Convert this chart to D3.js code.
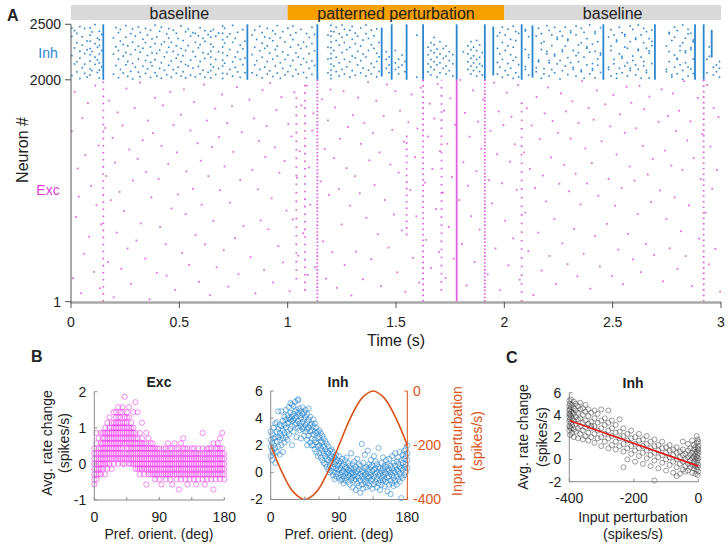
<!DOCTYPE html>
<html><head><meta charset="utf-8">
<script src="https://cdn.jsdelivr.net/npm/d3@7"></script>
<style>body{margin:0;background:#fff}svg text{font-family:"Liberation Sans",Arial,Helvetica,sans-serif;fill:#222}</style>
</head><body>
<svg id="c" width="728" height="547"></svg>
<script>
// ---------------- DATA ----------------
const phases = [{label:"baseline",start:0,end:1,kind:"base"},{label:"patterned perturbation",start:1,end:2,kind:"pert"},{label:"baseline",start:2,end:3,kind:"base"}];
const rasterXTicks = [0,0.5,1,1.5,2,2.5,3];
const rasterYTicks = [1,2000,2500];
// inhibitory synchronous events: [time, neuronFrom, neuronTo]
const inhSync = [[0.149,2000,2500],[0.814,2000,2500],[1.137,2000,2500],[1.434,2030,2470],[1.48,2000,2500],[1.549,2000,2500],[1.625,2000,2500],[1.78,2000,2500],[1.91,2000,2500],[1.949,2040,2480],[2.08,2000,2500],[2.13,2020,2490],[2.457,2000,2500],[2.695,2000,2500],[2.88,2000,2500],[2.92,2000,2500],[2.957,2200,2450]];
// excitatory synchronous events: [time, neuronFrom, neuronTo, density]
const excSync = [[0.149,1,2000,0.45],[1.04,200,1900,0.3],[1.08,100,2000,0.4],[1.137,1,2000,0.8],[1.549,600,1500,0.5],[1.625,1,2000,0.6],[1.71,100,2000,0.35],[1.78,1,2000,0.95],[1.91,1,2000,0.8],[2.08,1,1800,0.3],[2.92,1,2000,0.6]];
// inhibitory spikes grouped by time: [time, [neurons]]
const inhSpikes = [
[0.004,[2037,2218,2391,2466]],[0.016,[2142,2287,2443]],[0.027,[2071,2163,2334,2418]],[0.041,[2012,2196,2257,2479]],[0.052,[2109,2312,2388]],[0.063,[2058,2141,2236,2462]],[0.074,[2024,2271,2350]],
[0.088,[2043,2097,2168,2226,2281,2347,2402,2468]],[0.097,[2083,2255,2431]],[0.111,[2139,2204,2326,2497]],[0.122,[2066,2179,2292,2375]],[0.131,[2016,2088,2152,2233,2309,2361,2437]],[0.142,[2117,2263,2409]],
[0.196,[2052,2231,2378]],[0.207,[2128,2297,2471]],[0.219,[2019,2186,2263,2425]],[0.228,[2093,2349,2453]],[0.241,[2062,2214,2318]],[0.253,[2135,2246,2383,2488]],[0.262,[2031,2166,2307]],
[0.276,[2076,2229,2416]],[0.284,[2008,2147,2339,2458]],[0.297,[2114,2271,2394]],[0.311,[2069,2187,2302,2476]],[0.319,[2028,2249,2427]],[0.332,[2121,2284,2365]],[0.344,[2057,2173,2336,2463]],
[0.353,[2098,2219,2404]],[0.367,[2021,2158,2296,2448]],[0.374,[2126,2243,2369]],[0.388,[2064,2182,2327,2492]],[0.396,[2035,2238,2386]],[0.409,[2103,2268,2437]],[0.417,[2014,2154,2319,2474]],
[0.431,[2087,2207,2343]],[0.442,[2046,2247,2413]],[0.451,[2131,2293,2376,2461]],[0.463,[2023,2169,2338]],[0.472,[2092,2256,2447]],[0.486,[2059,2195,2306,2419]],[0.494,[2113,2226,2372]],
[0.508,[2034,2163,2282,2486]],[0.517,[2072,2217,2353]],[0.529,[2018,2138,2264,2433]],[0.541,[2124,2308,2457]],[0.552,[2043,2176,2394]],[0.563,[2106,2254,2425]],[0.574,[2027,2209,2337,2418]],
[0.588,[2119,2288,2396]],[0.596,[2053,2166,2317,2469]],[0.609,[2086,2245,2374]],[0.618,[2024,2193,2346,2443]],[0.633,[2068,2232,2407]],[0.645,[2018,2083,2139,2204,2257,2321,2384,2438]],
[0.657,[2116,2297,2453]],[0.668,[2047,2184,2393]],[0.681,[2102,2253,2421]],[0.7,[2012,2058,2124,2177,2243,2296,2361,2418,2483]],[0.709,[2149,2331,2464]],[0.721,[2054,2218,2387]],
[0.733,[2093,2273,2415]],[0.746,[2033,2162,2338,2491]],[0.758,[2112,2204,2373]],[0.769,[2071,2249,2428]],[0.781,[2022,2183,2313]],[0.793,[2137,2279,2452]],[0.803,[2064,2196,2347]],
[0.836,[2063,2227,2404]],[0.848,[2134,2293,2449]],[0.857,[2041,2172,2363]],[0.871,[2094,2262,2482]],[0.882,[2017,2203,2329,2426]],[0.894,[2114,2283,2387]],[0.906,[2052,2164,2306,2463]],
[0.917,[2081,2241,2374]],[0.931,[2029,2186,2352,2442]],[0.943,[2123,2273,2413]],[0.952,[2061,2214,2303,2488]],[0.966,[2013,2154,2379]],[0.977,[2102,2252,2434]],[0.988,[2044,2183,2341]],
[1.001,[2073,2224,2466]],[1.013,[2126,2294,2403]],[1.024,[2032,2174,2362,2484]],[1.038,[2091,2243,2424]],[1.049,[2053,2205,2314]],[1.061,[2137,2283,2454]],[1.073,[2066,2191,2338]],
[1.087,[2019,2158,2299,2417]],[1.099,[2103,2236,2381]],[1.112,[2048,2171,2327,2473]],[1.124,[2129,2262,2408]],[1.186,[2063,2186,2292,2403]],
[1.2,[2011,2043,2088,2141,2193,2236,2289,2342,2394,2437,2491]],[1.213,[2122,2264,2433]],[1.224,[2074,2203,2354,2472]],[1.238,[2033,2153,2313,2414]],[1.251,[2094,2246,2383,2493]],
[1.262,[2052,2184,2336,2455]],[1.273,[2117,2272,2404]],[1.287,[2024,2163,2292,2446]],[1.298,[2083,2214,2365,2481]],[1.312,[2041,2197,2326,2421]],[1.323,[2134,2256,2393]],
[1.337,[2062,2173,2304,2466]],[1.348,[2104,2232,2358]],[1.361,[2034,2205,2416,2493]],[1.373,[2086,2264,2372]],[1.386,[2054,2146,2316,2447]],[1.398,[2112,2283,2397]],[1.411,[2027,2166,2239,2459]],
[1.422,[2076,2207,2336]],[1.455,[2103,2184,2253]],[1.468,[2064,2134,2206]],[1.497,[2093,2153,2264]],[1.512,[2054,2113,2185]],[1.528,[2133,2224]],[1.541,[2073,2166]],[1.596,[2023,2402]],
[1.648,[2072,2143,2226,2294]],[1.661,[2043,2115,2183,2263,2334]],[1.676,[2092,2163,2243,2316,2382]],[1.689,[2024,2136,2204,2276]],[1.703,[2063,2154,2232,2343]],[1.718,[2104,2193,2283]],
[1.731,[2052,2124,2214,2306]],[1.746,[2083,2173,2254]],[1.762,[2032,2144,2227]],[1.811,[2253]],[1.832,[2094,2163,2234,2306]],[1.846,[2053,2124,2194,2272,2344]],[1.858,[2084,2153,2216,2293]],
[1.872,[2033,2114,2184,2263,2354]],[1.886,[2074,2143,2203,2314]],[1.898,[2043,2124,2246]],[1.968,[2053,2156,2283,2394]],[1.979,[2114,2234,2425]],[1.991,[2023,2184,2336,2474]],
[2.004,[2083,2264,2403]],[2.016,[2044,2146,2306,2456]],[2.029,[2104,2226,2364]],[2.041,[2013,2174,2293,2483]],[2.053,[2063,2203,2354,2434]],[2.066,[2026,2137,2418]],
[2.097,[2093,2119,2274,2440,2453]],[2.112,[2043,2201,2226,2389]],[2.147,[2073,2108,2394]],[2.158,[2163,2177,2464]],[2.171,[2014,2273,2330,2414]],[2.183,[2054,2101,2344]],[2.196,[2233,2256,2488]],
[2.207,[2034,2153,2174,2444]],[2.219,[2092,2308,2404]],[2.232,[2063,2215,2229,2473]],[2.244,[2143,2364,2382]],[2.257,[2008,2174,2436]],[2.268,[2083,2254,2271,2394]],[2.281,[2124,2304,2474]],
[2.293,[2047,2199,2354,2367]],[2.306,[2154,2424,2441]],[2.318,[2093,2112,2264]],[2.331,[2033,2218,2404,2484]],[2.342,[2163,2244,2315]],[2.355,[2073,2087,2334,2464]],[2.368,[2014,2204,2427]],
[2.381,[2134,2284,2297,2371]],[2.394,[2053,2249,2494]],[2.407,[2086,2101,2146,2320]],[2.419,[2018,2257,2417,2433]],[2.431,[2131,2187,2343]],[2.444,[2066,2224,2241,2470]],
[2.481,[2093,2114,2384]],[2.492,[2033,2264,2304,2451]],[2.506,[2144,2184,2404]],[2.518,[2013,2054,2344,2358]],[2.531,[2103,2234,2474]],[2.543,[2064,2194,2211,2424]],[2.556,[2124,2294,2394,2409]],
[2.568,[2034,2154,2284]],[2.581,[2084,2104,2344,2484]],[2.593,[2174,2214,2454]],[2.606,[2044,2134,2364,2377]],[2.618,[2094,2264,2274,2494]],[2.631,[2014,2204,2404]],[2.643,[2124,2164,2334,2464]],
[2.656,[2064,2084,2284,2434]],[2.668,[2017,2238,2259,2371]],[2.681,[2146,2308,2346,2447]],[2.748,[2073,2094,2304]],[2.761,[2164,2254,2414,2427]],[2.773,[2024,2044,2354]],[2.786,[2114,2224,2384,2474]],
[2.798,[2054,2184,2194,2444]],[2.811,[2134,2264,2304]],[2.823,[2004,2084,2334,2494]],[2.836,[2154,2244,2261,2374]],[2.848,[2034,2114,2414,2454]],[2.861,[2096,2273,2289,2419]],[2.872,[2057,2188,2341,2358]],
[2.935,[2063,2184]],[2.946,[2211,2297]],[2.965,[2043,2114]],[2.979,[2073,2134]],[2.993,[2023,2104,2164]]
];
// excitatory spikes: [time, neuron]
const excSpikes = [
[0.004,1537],[0.009,212],[0.017,1893],[0.023,764],[0.031,1201],[0.036,948],[0.047,77],[0.052,1655],[0.061,433],[0.066,1322],[0.078,1790],[0.084,586],[0.093,1044],
[0.106,269],[0.112,1948],[0.118,871],[0.127,1409],[0.133,122],[0.139,697],[0.158,1566],[0.163,1133],[0.171,358],[0.176,1812],[0.184,915],[0.192,1477],[0.197,41],
[0.203,1254],[0.211,623],[0.215,1706],[0.224,990],[0.232,297],[0.238,1589],[0.244,818],[0.256,1921],[0.261,480],[0.269,1371],[0.277,163],[0.286,1093],[0.294,1744],
[0.302,552],[0.308,1288],[0.319,1975],[0.322,706],[0.331,1455],[0.343,389],[0.347,1169],[0.356,1633],[0.362,22],[0.371,942],[0.379,1519],[0.388,1838],[0.396,261],
[0.404,1107],[0.411,675],[0.418,1402],[0.425,1769],[0.437,518],[0.441,236],[0.449,1244],[0.458,1892],[0.464,841],[0.473,1592],[0.481,107],[0.489,1346],[0.494,967],
[0.507,1686],[0.512,441],[0.521,1913],[0.529,790],[0.533,1175],[0.546,332],[0.551,1543],[0.563,1018],[0.568,1799],[0.575,602],[0.584,1428],[0.591,181],[0.599,1271],
[0.603,874],[0.614,1957],[0.619,517],[0.627,1633],[0.634,1132],[0.642,59],[0.651,1396],[0.657,729],[0.666,1740],[0.672,311],[0.683,1484],[0.688,1005],[0.697,1867],
[0.705,465],[0.709,1219],[0.721,1610],[0.726,137],[0.734,893],[0.743,1762],[0.749,1350],[0.757,574],[0.766,1934],[0.773,248],[0.781,1096],[0.788,1527],[0.796,682],
[0.823,1821],[0.829,403],[0.837,1188],[0.844,1652],[0.851,77],[0.862,1014],[0.867,1449],[0.876,733],[0.884,1906],[0.891,287],[0.897,1305],
[0.903,1583],[0.911,654],[0.918,1971],[0.926,932],[0.933,174],[0.941,1392],[0.948,1727],[0.957,502],[0.962,1163],[0.971,1844],[0.978,355],[0.986,1268],[0.994,821],
[1.003,1604],[1.009,95],[1.018,1490],[1.024,742],[1.031,1887],[1.043,1117],[1.049,416],[1.056,1356],[1.063,1769],[1.071,618],[1.087,1946],[1.093,241],[1.099,1211],
[1.104,875],[1.113,1542],[1.119,1698],[1.127,312],[1.152,1085],[1.158,1824],[1.164,544],[1.171,1377],[1.177,209],[1.186,1634],[1.191,963],[1.198,1912],
[1.206,446],[1.214,1295],[1.219,1751],[1.227,126],[1.236,1016],[1.241,1469],[1.249,697],[1.258,1898],[1.263,331],[1.272,1204],[1.278,1575],[1.287,866],[1.294,57],
[1.302,1682],[1.311,1132],[1.316,452],[1.325,1840],[1.333,978],[1.339,1423],[1.347,203],[1.354,1611],[1.363,757],[1.371,1979],[1.377,1274],[1.386,384],[1.394,1519],
[1.401,1053],[1.409,1811],[1.416,609],[1.424,1346],[1.431,142],[1.443,1673],[1.449,917],[1.458,1958],[1.466,488],[1.474,1236],[1.483,1549],[1.491,786],[1.497,1897],
[1.506,265],[1.512,1164],[1.519,1722],[1.527,643],[1.536,1442],[1.543,92],[1.557,1618],[1.566,1009],[1.572,1868],[1.579,397],[1.588,1303],[1.594,770],[1.599,1561],
[1.607,174],[1.614,1929],[1.633,1074],[1.639,558],[1.647,1489],[1.656,1785],[1.662,303],[1.668,1196],[1.677,1651],[1.684,836],[1.692,1961],[1.699,447],[1.703,1358],
[1.716,984],[1.722,1722],[1.729,216],[1.737,1424],[1.744,674],[1.751,1832],[1.758,1125],[1.766,389],[1.772,1595],[1.792,917],[1.797,1999],
[1.804,522],[1.811,1257],[1.818,1702],[1.826,148],[1.832,1046],[1.839,1488],[1.847,771],[1.856,1905],[1.863,359],[1.871,1177],[1.878,1623],[1.886,652],[1.894,1379],
[1.902,1822],[1.923,247],[1.929,1095],[1.936,1541],[1.944,887],[1.953,1974],[1.959,481],[1.967,1329],[1.974,1715],[1.981,104],[1.989,1068],[1.996,1592],
[2.004,730],[2.011,1885],[2.019,329],[2.026,1263],[2.033,1667],[2.041,571],[2.048,1419],[2.057,1009],[2.063,1951],[2.071,199],[2.091,1346],[2.097,804],
[2.104,1744],[2.111,458],[2.118,1198],[2.126,1589],[2.134,61],[2.142,1026],[2.149,1846],[2.157,623],[2.163,1467],[2.172,282],[2.178,1137],[2.186,1698],[2.193,904],
[2.201,1931],[2.208,413],[2.216,1301],[2.223,1628],[2.231,747],[2.238,160],[2.247,1523],[2.254,1063],[2.261,1878],[2.268,527],[2.277,1233],[2.284,1715],[2.292,339],
[2.299,996],[2.306,1470],[2.314,1806],[2.322,656],[2.329,1154],[2.337,230],[2.343,1612],[2.352,877],[2.358,1989],[2.366,433],[2.374,1381],[2.381,1066],[2.389,1745],[2.397,118],
[2.404,1250],[2.412,1640],[2.419,591],[2.427,1904],[2.434,956],[2.441,318],[2.449,1446],[2.466,1779],[2.473,702],[2.481,1107],[2.489,1580],[2.496,233],
[2.503,1864],[2.511,866],[2.518,1326],[2.526,470],[2.533,1688],[2.541,1027],[2.548,158],[2.556,1522],[2.564,1937],[2.571,612],[2.579,1219],[2.586,1793],[2.594,382],
[2.601,1092],[2.609,1563],[2.616,791],[2.624,1946],[2.631,267],[2.639,1405],[2.646,1735],[2.654,519],[2.662,1147],[2.669,1849],[2.677,898],[2.685,1288],[2.691,423],
[2.712,1622],[2.718,1003],[2.726,1914],[2.733,185],[2.741,1363],[2.748,747],[2.756,1676],[2.763,482],[2.771,1228],[2.778,1877],[2.786,941],[2.793,1538],[2.799,296],
[2.807,1721],[2.815,636],[2.822,1189],[2.829,1987],[2.837,412],[2.844,1454],[2.852,869],[2.859,1625],[2.867,141],[2.874,1297],[2.893,1836],[2.899,569],
[2.906,1106],[2.913,1512],[2.929,803],[2.936,1953],[2.944,337],[2.951,1399],[2.959,1018],[2.966,1748],[2.974,476],[2.981,1187],[2.988,1664],[2.996,92]
];
// Panel B (Exc): [pref. orientation, [rate changes]]
const excRate = [
[0,[-0.57,-0.43,-0.29,-0.14,0,0.14,0.29,0.43]],[3,[-0.43,-0.29,-0.14,0,0.14,0.29,0.57,0.86]],[6,[-0.29,-0.14,0,0.14,0.29,0.43,0.71]],[9,[-0.29,-0.14,0,0.14,0.29,0.43,0.57,0.86]],
[12,[-0.14,0,0.14,0.29,0.43,0.57,0.71,0.86]],[15,[-0.29,0,0.14,0.29,0.43,0.57,0.71,0.86,1.0]],[18,[-0.14,0,0.14,0.29,0.43,0.57,0.71,0.86,1.14]],[21,[0,0.14,0.29,0.43,0.57,0.71,0.86,1.0,1.29]],
[24,[-0.14,0.14,0.29,0.43,0.57,0.71,0.86,1.0,1.14]],[27,[0,0.14,0.29,0.43,0.57,0.71,0.86,1.0,1.14,1.43]],[30,[0.14,0.29,0.43,0.57,0.71,0.86,1.0,1.14,1.29,1.43]],[33,[0,0.14,0.29,0.43,0.57,0.71,0.86,1.0,1.14,1.29,1.57]],
[36,[0.14,0.29,0.43,0.57,0.71,0.86,1.0,1.14,1.29,1.43]],[39,[0,0.14,0.29,0.43,0.57,0.71,0.86,1.0,1.14,1.43,1.57]],[42,[0,0.14,0.29,0.57,0.71,0.86,1.0,1.14,1.29,1.86]],[45,[0.14,0.29,0.43,0.57,0.71,0.86,1.0,1.14,1.29,1.43]],
[48,[0,0.14,0.29,0.43,0.57,0.71,0.86,1.0,1.29,1.57]],[51,[0,0.14,0.29,0.43,0.57,0.71,0.86,1.0,1.14]],[54,[0,0.14,0.29,0.43,0.57,0.71,0.86,1.0,1.43]],[57,[-0.14,0,0.14,0.29,0.43,0.57,0.71,0.86,1.71]],
[60,[-0.14,0,0.14,0.29,0.43,0.57,0.71,1.43]],[63,[-0.29,-0.14,0,0.14,0.29,0.43,0.57,0.86]],[66,[-0.14,0,0.14,0.29,0.43,0.57,0.71,1.14]],[69,[-0.29,-0.14,0,0.14,0.29,0.43,0.57]],
[72,[-0.57,-0.14,0,0.14,0.29,0.43,0.57,0.86]],[75,[-0.29,-0.14,0,0.14,0.29,0.43,0.71]],[78,[-0.29,-0.14,0,0.14,0.29,0.43,0.57]],[81,[-0.29,-0.14,0,0.14,0.29,0.43,0.57]],
[84,[-0.43,-0.29,-0.14,0,0.14,0.29,0.43]],[87,[-0.29,-0.14,0,0.14,0.29,0.43]],[90,[-0.43,-0.29,-0.14,0,0.14,0.29,0.43]],[93,[-0.57,-0.29,-0.14,0,0.14,0.29]],
[96,[-0.29,-0.14,0,0.14,0.29,0.43]],[99,[-0.43,-0.29,-0.14,0,0.14,0.29,0.43]],[102,[-0.29,-0.14,0,0.14,0.29,0.57]],[105,[-0.43,-0.29,-0.14,0,0.14,0.29,0.43]],
[108,[-0.57,-0.29,-0.14,0,0.14,0.29,0.43]],[111,[-0.29,-0.14,0,0.14,0.29,0.57]],[114,[-0.43,-0.29,-0.14,0,0.14,0.29,0.43]],[117,[-0.71,-0.29,-0.14,0,0.14,0.29,0.43]],
[120,[-0.43,-0.29,-0.14,0,0.14,0.29,0.57]],[123,[-0.29,-0.14,0,0.14,0.29,0.43,0.71]],[126,[-0.43,-0.29,-0.14,0,0.14,0.29,0.43]],[129,[-0.57,-0.29,-0.14,0,0.14,0.29,0.43]],
[132,[-0.43,-0.29,-0.14,0,0.14,0.29]],[135,[-0.29,-0.14,0,0.14,0.29,0.43]],[138,[-0.43,-0.29,-0.14,0,0.14,0.29,0.43]],[141,[-0.57,-0.29,-0.14,0,0.14,0.29]],
[144,[-0.43,-0.29,-0.14,0,0.14,0.29,0.43]],[147,[-0.29,-0.14,0,0.14,0.29]],[150,[-0.43,-0.29,-0.14,0,0.14,0.29,0.43,0.86]],[153,[-0.57,-0.29,-0.14,0,0.14,0.29]],
[156,[-0.43,-0.29,-0.14,0,0.14,0.29,0.43]],[159,[-0.29,-0.14,0,0.14,0.29,0.43]],[162,[-0.43,-0.29,-0.14,0,0.14,0.29,0.43]],[165,[-0.71,-0.29,-0.14,0,0.14,0.29,0.57]],
[168,[-0.43,-0.29,-0.14,0,0.14,0.29,0.43]],[171,[-0.29,-0.14,0,0.14,0.29,0.43,0.57]],[174,[-0.43,-0.29,-0.14,0,0.14,0.29,0.43,0.71]],[177,[-0.29,-0.14,0,0.14,0.29,0.43,0.86]],
[180,[-0.43,-0.29,-0.14,0,0.14,0.29]]
];
// Panel B (Inh): [pref. orientation, [rate changes]]
const inhRate = [
[0,[1.2,1.9,2.4,3.0]],[2,[0.9,1.6,2.2,2.8]],[4,[1.4,2.5,3.3,2.0]],[6,[0.7,1.8,2.6,3.6]],[8,[1.5,2.3,3.0,3.7]],[10,[1.9,2.6,3.2,4.5]],[12,[1.3,2.4,2.9,3.5]],[14,[2.0,2.7,3.4,4.5]],
[16,[2.5,3.1,3.8,1.5]],[18,[2.2,2.9,3.5,4.1]],[20,[2.6,3.3,3.9,4.6]],[22,[3.0,3.6,4.2,2.4]],[24,[2.8,3.7,4.0,4.8]],[26,[3.2,3.9,4.4,5.1]],[28,[3.4,3.8,4.1,5.0,2.0]],[30,[3.0,3.9,4.3,4.9]],
[32,[3.5,4.0,4.5,5.2]],[34,[2.6,3.6,4.1,4.6]],[36,[3.3,3.8,4.4,5.3,5.4]],[38,[3.1,3.6,4.2,4.7]],[40,[2.5,3.4,4.0,4.5]],[42,[3.2,3.7,4.3,4.8]],[44,[2.7,3.3,3.9,4.4]],[46,[3.0,3.5,4.1,4.6]],
[48,[2.4,3.2,3.7,4.3,2.0]],[50,[2.7,3.3,3.9,4.7]],[52,[2.2,3.0,3.5,4.1]],[54,[2.5,3.1,3.6,2.0]],[56,[2.0,2.8,3.4,3.9]],[58,[1.7,2.4,3.0,3.6]],[60,[1.5,2.2,2.9,3.3]],[62,[1.9,2.5,3.0,1.2]],
[64,[1.4,2.0,2.6,3.1]],[66,[1.1,1.8,2.3,2.9]],[68,[0.9,1.6,2.2,2.7]],[70,[0.7,1.4,1.9,2.5]],[72,[0.6,1.2,1.7,2.3]],[74,[0.4,1.0,1.5,2.1]],[76,[0.2,0.9,1.4,1.9]],[78,[0.5,1.1,1.6,0.0]],
[80,[0.1,0.7,1.2,1.7]],[82,[-0.2,0.4,1.0,1.5]],[84,[0.0,0.6,1.1,-0.5]],[86,[-0.3,0.3,0.8,1.3]],[88,[-0.1,0.5,0.9,0.2]],[90,[-0.4,0.2,0.7,1.2]],[92,[-0.2,0.3,0.8,-0.6]],[94,[-0.5,0.0,0.5,1.0]],
[96,[-0.3,0.1,0.6,-0.8]],[98,[-0.6,-0.1,0.4,0.9]],[100,[-0.4,0.0,0.3,1.1]],[102,[-0.7,-0.2,0.2,0.7]],[104,[-0.9,-0.3,0.1,0.5]],[106,[-0.5,-0.1,0.3,1.4]],[108,[-1.1,-0.4,0.0,0.6]],[110,[-0.6,-0.2,0.2,0.8]],
[112,[-1.3,-0.5,0.0,0.4]],[114,[-0.8,-0.3,0.1,1.0]],[116,[-1.0,-0.4,0.2,0.6]],[118,[-1.5,-0.6,-0.1,0.5]],[120,[-0.9,-0.3,0.1,2.1]],[122,[-1.2,-0.5,0.0,0.7]],[124,[-0.7,-0.2,0.3,1.3]],[126,[-1.1,-0.6,-0.1,0.4]],
[128,[-0.8,-0.3,0.2,1.6]],[130,[-1.0,-0.4,0.0,0.6]],[132,[-0.6,-0.2,0.4,0.9]],[134,[-1.2,-0.5,0.1,0.5]],[136,[-0.9,-0.3,0.2,1.2]],[138,[-0.7,-0.1,0.3,0.8]],[140,[-1.1,-0.5,0.0,0.6]],[142,[-0.8,-0.2,0.4,1.8]],
[144,[-1.3,-0.6,-0.1,0.3]],[146,[-0.9,-0.4,0.1,0.7]],[148,[-0.6,-0.2,0.3,1.1]],[150,[-1.0,-0.5,0.0,0.5]],[152,[-0.7,-0.1,0.4,0.9]],[154,[-1.4,-0.4,0.1,0.6]],[156,[-0.9,-0.3,0.2,1.0]],[158,[-1.6,-0.6,0.0,0.5]],
[160,[-0.8,-0.2,0.3,1.2]],[162,[-1.0,-0.4,0.1,0.7]],[164,[-0.6,0.0,0.5,1.4]],[166,[-0.9,-0.3,0.2,0.8]],[168,[-0.5,0.1,0.6,1.1]],[170,[-0.7,-0.1,0.4,1.5]],[172,[-1.9,-0.3,0.3,0.9]],[174,[-0.4,0.2,0.7,1.3]],
[176,[-0.2,0.4,1.0,1.6]],[178,[0.0,0.6,1.2,1.7]],[180,[0.3,0.9,1.4,2.0]]
];
// input perturbation vs orientation
const perturbCurve = [[0,-200],[15,-300],[30,-373],[45,-400],[60,-373],[75,-300],[90,-200],[105,-100],[120,-27],[135,0],[150,-27],[165,-100],[180,-200]];
// Panel C: [input perturbation, [rate changes]]
const inhVsInput = [
[-400,[2.6,3.0,3.4,3.8,4.1,4.4,4.8,5.3]],[-398,[2.2,2.9,3.6,4.0,4.5,5.0]],[-395,[2.8,3.3,3.9,4.3,4.7,5.4]],[-391,[2.4,3.1,3.7,4.2,4.9]],[-386,[2.0,2.7,3.5,4.1,4.6,5.2]],
[-380,[2.5,3.2,3.8,4.4,5.0]],[-373,[1.9,2.8,3.6,4.2,4.8]],[-366,[2.3,3.0,3.7,4.5,5.1]],[-358,[1.8,2.6,3.3,4.0,4.6]],[-350,[2.1,2.9,3.5,4.3,4.9]],[-341,[1.7,2.4,3.2,3.9,4.5]],
[-332,[2.0,2.8,3.4,4.2,3.0]],[-322,[1.5,2.3,3.0,3.7,4.4]],[-312,[1.9,2.6,3.3,4.1]],[-301,[1.2,2.0,2.8,3.5,4.5]],[-290,[1.6,2.3,3.1,3.7]],[-279,[1.0,1.9,2.6,3.3,4.4]],[-268,[1.3,2.1,2.8,3.5]],
[-256,[0.9,1.6,2.4,3.1]],[-244,[1.2,1.9,2.5,3.6]],[-232,[0.7,1.4,2.1,2.8,-0.7]],[-220,[1.0,1.7,2.3,0.0]],[-208,[0.5,1.2,1.9,2.6]],[-196,[0.8,1.4,2.0,-0.2]],[-184,[0.3,1.0,1.7,2.3]],
[-172,[0.6,1.2,1.8,-0.4]],[-160,[0.1,0.8,1.4,2.1]],[-148,[0.4,1.0,1.6,-0.6]],[-136,[-0.1,0.6,1.2,1.8,-1.9]],[-124,[0.2,0.8,1.3,-0.8]],[-112,[-0.3,0.4,1.0,1.6]],[-100,[0.0,0.6,1.1,-1.0]],
[-89,[-0.5,0.2,0.8,1.3]],[-78,[-0.2,0.4,0.9,-1.2]],[-67,[-0.7,0.0,0.6,1.1,-1.5]],[-57,[-0.4,0.2,0.7,-1.3]],[-48,[-0.9,-0.2,0.4,0.9,1.6]],[-40,[-0.6,0.0,0.5,-1.1]],[-32,[-1.0,-0.4,0.2,0.8,1.4]],
[-25,[-0.7,-0.1,0.4,1.0]],[-19,[-1.2,-0.5,0.1,0.6,1.7]],[-14,[-0.8,-0.2,0.3,0.9,1.3]],[-9,[-1.3,-0.6,0.0,0.5,1.1]],[-5,[-0.9,-0.3,0.2,0.7,1.5,2.1]],[-2,[-1.4,-0.7,-0.1,0.4,1.0,1.8]],
[0,[-1.1,-0.5,0.1,0.6,1.2,1.6,0.9]]
];
const fitLine = [[-400,3.5],[0,-0.6]];
const orientTicks = [0,45,90,135,180], orientLabels = [0,90,180];
const excYTicks = [-1,0,1,2], inhYTicks = [-2,0,2,4,6], inputTicks = [-400,-200,0];

// ---------------- STYLE ----------------
const C = {inh:"#2a86cf", exc:"#e040e0", excDot:"#e060e0", base:"#d9d9d9", pert:"#f7a000", orange:"#d95319", axis:"#8a8a8a", red:"#e3191c"};
const svg = d3.select("#c");
const flat = arr => arr.flatMap(([x, ys]) => ys.map(y => [x, y]));

// ---------------- PANEL A ----------------
const xA = d3.scaleLinear().domain([0,3]).range([71,721]);
const yA = d3.scaleLinear().domain([1,2500]).range([301.7,24.3]);
const gA = svg.append("g");
gA.selectAll("rect.phase").data(phases).join("rect").attr("class","phase")
  .attr("x",d=>xA(d.start)).attr("width",d=>xA(d.end)-xA(d.start)).attr("y",5).attr("height",15)
  .attr("fill",d=>d.kind==="pert"?C.pert:C.base);
gA.selectAll("text.phase").data(phases).join("text").attr("class","phase")
  .attr("x",d=>xA((d.start+d.end)/2)).attr("y",18.5).attr("text-anchor","middle").attr("font-size",16).text(d=>d.label);

gA.append("g").selectAll("rect").data(inhSpikes.flatMap(([t,ns])=>ns.map(n=>[t,n]))).join("rect")
  .attr("x",d=>xA(d[0])-0.8).attr("y",d=>yA(d[1])-0.8).attr("width",1.6).attr("height",1.6).attr("fill",C.inh);
gA.append("g").selectAll("line").data(inhSync).join("line")
  .attr("x1",d=>xA(d[0])).attr("x2",d=>xA(d[0])).attr("y1",d=>yA(d[1])).attr("y2",d=>yA(d[2]))
  .attr("stroke",C.inh).attr("stroke-width",1.8);
gA.append("g").selectAll("rect").data(excSpikes).join("rect")
  .attr("x",d=>xA(d[0])-0.9).attr("y",d=>yA(d[1])-0.9).attr("width",1.8).attr("height",1.8).attr("fill",C.excDot).attr("opacity",0.9);
const gapScale = d3.scaleLinear().domain([0.3,0.95]).range([7,0.3]);
gA.append("g").selectAll("line").data(excSync).join("line")
  .attr("x1",d=>xA(d[0])).attr("x2",d=>xA(d[0])).attr("y1",d=>yA(d[1])).attr("y2",d=>yA(d[2]))
  .attr("stroke",C.excDot).attr("stroke-width",1.8).attr("stroke-dasharray",d=>d[3]>=0.9?null:`1.6,${gapScale(d[3])}`);

gA.append("line").attr("x1",71).attr("x2",721).attr("y1",302.5).attr("y2",302.5).attr("stroke","#a8a8a8").attr("stroke-width",2.5);
gA.append("line").attr("x1",71).attr("x2",71).attr("y1",yA(2500)).attr("y2",303).attr("stroke","#555").attr("stroke-width",1);
gA.selectAll("line.xt").data(rasterXTicks).join("line").attr("class","xt")
  .attr("x1",d=>xA(d)).attr("x2",d=>xA(d)).attr("y1",302).attr("y2",308).attr("stroke","#555");
gA.selectAll("text.xt").data(rasterXTicks).join("text").attr("class","xt")
  .attr("x",d=>xA(d)).attr("y",327).attr("text-anchor","middle").attr("font-size",14).text(d=>d);
gA.selectAll("line.yt").data(rasterYTicks).join("line").attr("class","yt")
  .attr("x1",65).attr("x2",71).attr("y1",d=>yA(d)).attr("y2",d=>yA(d)).attr("stroke","#555");
gA.selectAll("text.yt").data(rasterYTicks).join("text").attr("class","yt")
  .attr("x",61).attr("y",d=>yA(d)).attr("dy","0.35em").attr("text-anchor","end").attr("font-size",14).text(d=>d);
gA.append("text").attr("x",396).attr("y",346).attr("text-anchor","middle").attr("font-size",16).text("Time (s)");
gA.append("text").attr("transform","translate(22,150) rotate(-90)").attr("dy","0.35em").attr("text-anchor","middle").attr("font-size",16).text("Neuron #");
gA.append("text").attr("x",48).attr("y",53).attr("dy","0.35em").attr("text-anchor","middle").attr("font-size",14).style("fill",C.inh).text("Inh");
gA.append("text").attr("x",48).attr("y",190).attr("dy","0.35em").attr("text-anchor","middle").attr("font-size",14).style("fill",C.exc).text("Exc");
svg.append("text").attr("x",7).attr("y",21).attr("font-size",16).attr("font-weight","bold").text("A");
svg.append("text").attr("x",31).attr("y",362).attr("font-size",16).attr("font-weight","bold").text("B");
svg.append("text").attr("x",506).attr("y",363).attr("font-size",16).attr("font-weight","bold").text("C");

function frame(g, x, y, xt, xl, yt, xLabY){
  const [x0,x1]=x.range(), [y0,y1]=y.range();
  g.append("line").attr("x1",x0).attr("x2",x1).attr("y1",y0).attr("y2",y0).attr("stroke",C.axis);
  g.append("line").attr("x1",x0).attr("x2",x0).attr("y1",y0).attr("y2",y1).attr("stroke",C.axis);
  g.selectAll("line.xt").data(xt).join("line").attr("class","xt").attr("x1",d=>x(d)).attr("x2",d=>x(d)).attr("y1",y0).attr("y2",y0-3).attr("stroke",C.axis);
  g.selectAll("text.xt").data(xl).join("text").attr("class","xt").attr("x",d=>x(d)).attr("y",xLabY).attr("text-anchor","middle").attr("font-size",14).text(d=>d);
  g.selectAll("line.yt").data(yt).join("line").attr("class","yt").attr("x1",x0).attr("x2",x0+3).attr("y1",d=>y(d)).attr("y2",d=>y(d)).attr("stroke",C.axis);
  g.selectAll("text.yt").data(yt).join("text").attr("class","yt").attr("x",x0-8).attr("y",d=>y(d)).attr("dy","0.35em").attr("text-anchor","end").attr("font-size",14).text(d=>d);
}
function vlabel(g, x, y, txt, color){
  const t = g.append("text").attr("transform",`translate(${x},${y}) rotate(-90)`).attr("dy","0.35em").attr("text-anchor","middle").attr("font-size",14).text(txt);
  if(color) t.style("fill",color);
}

// ---------------- PANEL B Exc ----------------
const xBe = d3.scaleLinear().domain([0,180]).range([94.3,224.3]);
const yBe = d3.scaleLinear().domain([-1,2]).range([500,391.7]);
const gBe = svg.append("g");
gBe.append("g").selectAll("circle").data(flat(excRate)).join("circle")
  .attr("cx",d=>xBe(d[0])).attr("cy",d=>yBe(d[1])).attr("r",2.6).attr("fill","none").attr("stroke","#ee22ee").attr("stroke-opacity",0.65).attr("stroke-width",0.8);
frame(gBe, xBe, yBe, orientTicks, orientLabels, excYTicks, 521.5);
gBe.append("text").attr("x",159).attr("y",387).attr("text-anchor","middle").attr("font-size",14).attr("font-weight","bold").text("Exc");
gBe.append("text").attr("x",159).attr("y",539).attr("text-anchor","middle").attr("font-size",14).text("Pref. orient. (deg)");
vlabel(gBe, 46.7, 443, "Avg. rate change");
vlabel(gBe, 64.3, 443, "(spikes/s)");

// ---------------- PANEL B Inh ----------------
const xBi = d3.scaleLinear().domain([0,180]).range([270.7,407.3]);
const yBi = d3.scaleLinear().domain([-2,6]).range([499.5,391]);
const yBr = d3.scaleLinear().domain([-400,0]).range([499.5,391]);
const gBi = svg.append("g");
gBi.append("g").selectAll("circle").data(flat(inhRate)).join("circle")
  .attr("cx",d=>xBi(d[0])).attr("cy",d=>yBi(d[1])).attr("r",2.6).attr("fill","none").attr("stroke",C.inh).attr("stroke-opacity",0.75).attr("stroke-width",0.8);
gBi.append("path").datum(perturbCurve).attr("fill","none").attr("stroke",C.orange).attr("stroke-width",1.6)
  .attr("d",d3.line().x(d=>xBi(d[0])).y(d=>yBr(d[1])).curve(d3.curveCatmullRom));
frame(gBi, xBi, yBi, orientTicks, orientLabels, inhYTicks, 521.5);
gBi.append("line").attr("x1",407.3).attr("x2",407.3).attr("y1",391).attr("y2",499.5).attr("stroke",C.orange);
gBi.selectAll("line.rt").data(inputTicks).join("line").attr("class","rt").attr("x1",407.3).attr("x2",404.3).attr("y1",d=>yBr(d)).attr("y2",d=>yBr(d)).attr("stroke",C.orange);
gBi.selectAll("text.rt").data(inputTicks).join("text").attr("class","rt").attr("x",413).attr("y",d=>yBr(d)).attr("dy","0.35em").attr("font-size",14).style("fill",C.orange).text(d=>d);
gBi.append("text").attr("x",338).attr("y",387).attr("text-anchor","middle").attr("font-size",14).attr("font-weight","bold").text("Inh");
gBi.append("text").attr("x",339).attr("y",539).attr("text-anchor","middle").attr("font-size",14).text("Pref. orient. (deg)");
vlabel(gBi, 456.7, 441, "Input perturbation", C.orange);
vlabel(gBi, 476.7, 441, "(spikes/s)", C.orange);

// ---------------- PANEL C ----------------
const xC = d3.scaleLinear().domain([-400,0]).range([569.3,698.3]);
const yC = d3.scaleLinear().domain([-2,6]).range([481.7,392.7]);
const gC = svg.append("g");
gC.append("g").selectAll("circle").data(flat(inhVsInput)).join("circle")
  .attr("cx",d=>xC(d[0])).attr("cy",d=>yC(d[1])).attr("r",2.5).attr("fill","none").attr("stroke","#333").attr("stroke-opacity",0.6).attr("stroke-width",0.8);
gC.append("path").datum(fitLine).attr("fill","none").attr("stroke",C.red).attr("stroke-width",1.6)
  .attr("d",d3.line().x(d=>xC(d[0])).y(d=>yC(d[1])));
frame(gC, xC, yC, inputTicks, inputTicks, inhYTicks, 502.5);
gC.append("text").attr("x",633).attr("y",388).attr("text-anchor","middle").attr("font-size",14).attr("font-weight","bold").text("Inh");
gC.append("text").attr("x",633).attr("y",521.5).attr("text-anchor","middle").attr("font-size",14).text("Input perturbation");
gC.append("text").attr("x",633).attr("y",539).attr("text-anchor","middle").attr("font-size",14).text("(spikes/s)");
vlabel(gC, 523.3, 437, "Avg. rate change");
vlabel(gC, 541.7, 437, "(spikes/s)");
</script>
</body></html>
